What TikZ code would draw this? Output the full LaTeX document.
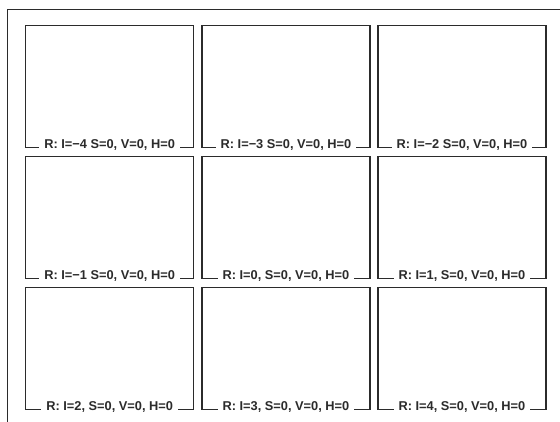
\documentclass[tikz,border=0pt]{standalone}
\usepackage{fontspec}
\setmainfont{Liberation Sans}
\definecolor{ink}{HTML}{2B2B2B}
\begin{document}
\begin{tikzpicture}[x=1pt,y=-1pt,
  panel/.style={draw=ink,line width=1.3pt},
  frameline/.style={draw=ink,line width=1.3pt},
  plabel/.style={fill=white,anchor=base,inner xsep=5pt,inner ysep=2pt,text=ink,font=\bfseries\fontsize{12.8}{14}\selectfont}]
\useasboundingbox (0,0) rectangle (560,422);
\fill[white] (0,0) rectangle (560,422);
\coordinate (ftr) at (562,9.3);
\coordinate (ftl) at (7.5,9.3);
\coordinate (fbl) at (7.5,424);
\draw[frameline] (ftr) -- (ftl) -- (fbl);
\def\cols{{25,201.3,377.3}}
\def\rows{{25,156,287}}
\foreach \r/\c/\t [count=\k] in {0/0/{R: I=−4 S=0, V=0, H=0},0/1/{R: I=−3 S=0, V=0, H=0},0/2/{R: I=−2 S=0, V=0, H=0},
  1/0/{R: I=−1 S=0, V=0, H=0},1/1/{R: I=0, S=0, V=0, H=0},1/2/{R: I=1, S=0, V=0, H=0},
  2/0/{R: I=2, S=0, V=0, H=0},2/1/{R: I=3, S=0, V=0, H=0},2/2/{R: I=4, S=0, V=0, H=0}}{
  \pgfmathsetmacro{\xx}{\cols[\c]}
  \pgfmathsetmacro{\yy}{\rows[\r]}
  \node[panel,minimum width=168pt,minimum height=122pt,inner sep=0pt,anchor=north west] (p\k) at (\xx,\yy) {};
  \node[plabel] (l\k) at (p\k.south) {\t};
}
\end{tikzpicture}
\end{document}
